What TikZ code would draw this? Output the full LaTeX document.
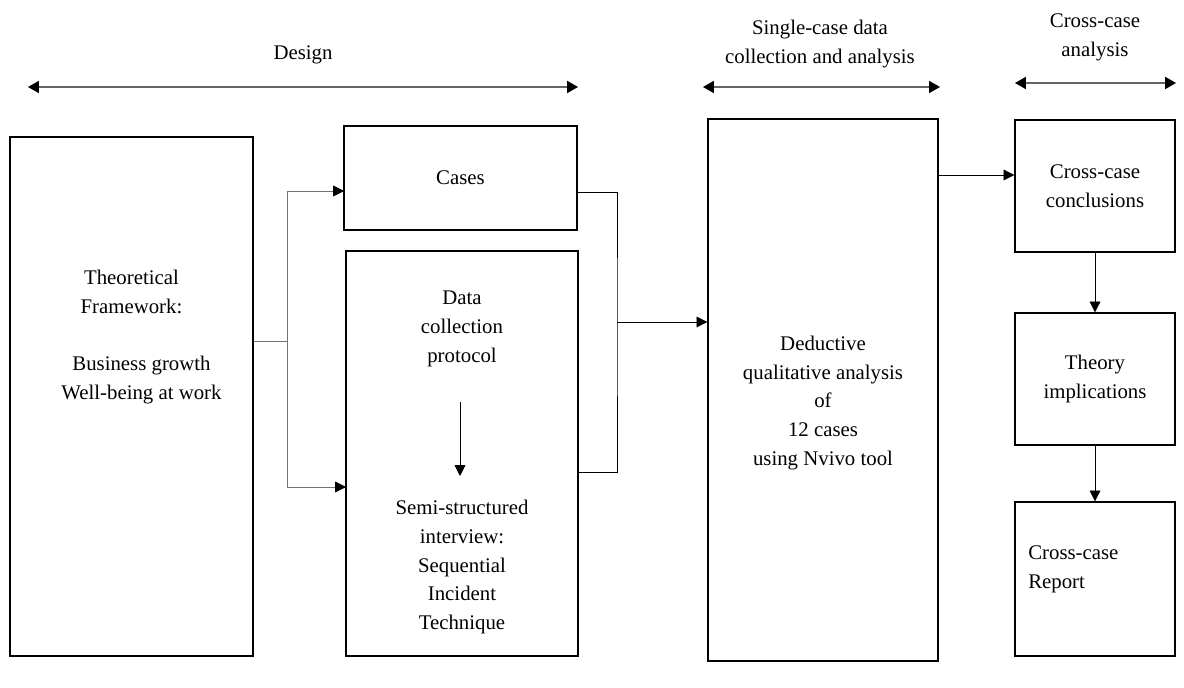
\documentclass[tikz,border=0pt]{standalone}
\usepackage{fontspec}
\setmainfont{Liberation Serif}
\usetikzlibrary{arrows.meta,positioning}

\begin{document}
\begin{tikzpicture}[
  x=0.025cm, y=-0.025cm,
  font=\fontsize{14.8}{20.6}\selectfont,
  box/.style={rectangle, draw, line width=0.9pt, inner sep=0pt},
  txt/.style={align=center, inner sep=0pt},
  arr/.style={-{Triangle[length=2.7mm,width=2.7mm,color=black]}, line width=0.5pt},
  span/.style={{Triangle[length=2.7mm,width=3mm,color=black]}-{Triangle[length=2.7mm,width=3mm,color=black]}, line width=1pt, black!60}
]
\useasboundingbox (0,0) rectangle (1184,688);

% phase headers
\node[txt] (design) at (303,55) {Design};
\node[txt] (single) at (820,44) {Single-case data\\collection and analysis};
\node[txt] (cross) at (1095,37) {Cross-case\\analysis};
\coordinate (designL) at (28,87);
\coordinate (designR) at (578,87);
\coordinate (singleL) at (703,87);
\coordinate (singleR) at (940,87);
\coordinate (crossL) at (1015,83);
\coordinate (crossR) at (1176,83);
\draw[span] (designL) -- (designR);
\draw[span] (singleL) -- (singleR);
\draw[span] (crossL) -- (crossR);

% boxes
\node[box, minimum width=6.075cm, minimum height=12.975cm] (theory) at (131.5,396.5) {};
\node[box, minimum width=5.825cm, minimum height=2.6cm] (cases) at (460.5,178) {Cases};
\node[box, minimum width=5.8cm, minimum height=10.125cm] (protocol) at (462,453.5) {};
\node[box, minimum width=5.75cm, minimum height=13.55cm] (deductive) at (823,390) {};
\node[box, minimum width=4cm, minimum height=3.3cm, align=center] (concl) at (1095,186) {Cross-case\\conclusions};
\node[box, minimum width=4cm, minimum height=3.3cm, align=center] (implic) at (1095,379) {Theory\\implications};
\node[box, minimum width=4cm, minimum height=3.85cm] (report) at (1095,579) {};

% texts inside boxes
\node[txt] (theoryTxt) at (theory |- 0,337) {Theoretical\\Framework:\\[20.6pt]\hspace*{0.5cm}Business growth\\\hspace*{0.5cm}Well-being at work};
\node[txt] (protoTop) at (protocol |- 0,329) {Data\\collection\\protocol};
\node[txt] (protoBot) at (protocol |- 0,567) {Semi-structured\\interview:\\Sequential\\Incident\\Technique};
\node[txt] (deductTxt) at (deductive |- 0,403) {Deductive\\qualitative analysis\\of\\12 cases\\using Nvivo tool};
\node[txt, align=left, anchor=west] (reportTxt) at (1028,569) {Cross-case\\Report};

% connectors
\coordinate (split) at (287,341);
\coordinate (casesIn) at (344,191);
\coordinate (protoIn) at (346,487);
\draw[black!55, line width=0.6pt] (theory.east |- split) -- (split);
\draw[arr, black!55] (split) |- (casesIn);
\draw[arr, black!55] (split) |- (protoIn);

\coordinate (merge) at (617,322);
\draw[line width=0.5pt] (cases.east |- 0,192) -| (merge) |- (protocol.east |- 0,472);
\draw[arr] (merge) -- (deductive.west |- merge);

\coordinate (protoFrom) at (460,402);
\coordinate (protoTo) at (460,476);
\draw[arr] (protoFrom) -- (protoTo);

\draw[arr] (deductive.east |- 0,175) -- (concl.west |- 0,175);
\draw[arr] (concl) -- (implic);
\draw[arr] (implic) -- (report);
\end{tikzpicture}
\end{document}
